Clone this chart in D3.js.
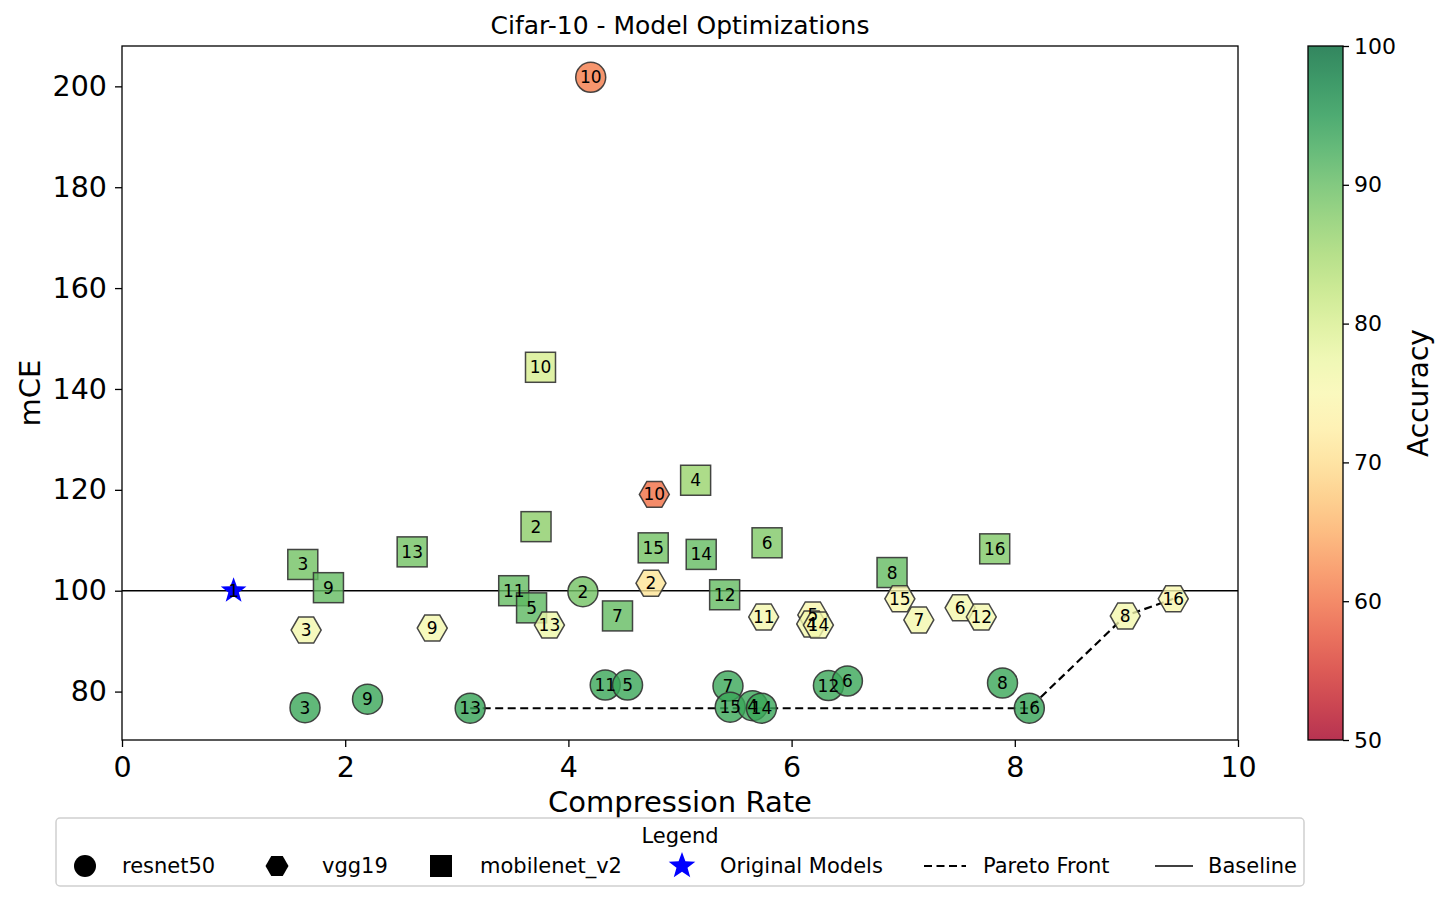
<!DOCTYPE html>
<html lang="en">
<head>
    <meta charset="UTF-8">
    <title>Cifar-10 - Model Optimizations</title>
    <script src="https://d3js.org/d3.v7.min.js"></script>
    <style>
        body { margin: 0; background: white; font-family: "DejaVu Sans", sans-serif; }
        .tick text { font-family: "DejaVu Sans", sans-serif; }
        .lbl { font-size: 17px; text-anchor: middle; dominant-baseline: central; }
    </style>
</head>
<body>
<svg id="chart" width="1448" height="902"></svg>
<script>
    // resnet50 (circles)
    let resnetIds  = [3, 9, 13, 2, 11, 5, 10, 7, 15, 4, 14, 12, 6, 8, 16]
    let resnetRate = [1.64, 2.20, 3.12, 4.13, 4.33, 4.53, 4.20, 5.43, 5.45, 5.65, 5.73, 6.33, 6.50, 7.89, 8.13]
    let resnetMce  = [76.8, 78.5, 76.7, 99.8, 81.3, 81.3, 201.8, 81.1, 76.9, 77.2, 76.7, 81.2, 82.1, 81.7, 76.7]
    let resnetAcc  = [93, 93, 93.5, 89, 93, 93, 61, 93, 93, 93, 93, 93, 93, 93, 93.5]

    // vgg19 (hexagons)
    let vggIds  = [3, 9, 13, 2, 10, 11, 5, 4, 14, 15, 7, 6, 12, 8, 16]
    let vggRate = [1.65, 2.78, 3.83, 4.74, 4.77, 5.75, 6.19, 6.18, 6.24, 6.97, 7.14, 7.51, 7.70, 8.99, 9.42]
    let vggMce  = [92.2, 92.6, 93.2, 101.5, 119.1, 94.8, 95.2, 93.4, 93.2, 98.4, 94.2, 96.6, 94.8, 95.0, 98.4]
    let vggAcc  = [76, 76, 77, 71, 60, 76, 75, 76, 76, 75, 76, 76, 76, 76, 75]

    // mobilenet_v2 (squares)
    let mobileIds  = [3, 9, 13, 2, 10, 11, 5, 7, 15, 4, 14, 12, 6, 8, 16]
    let mobileRate = [1.62, 1.85, 2.60, 3.71, 3.75, 3.51, 3.67, 4.44, 4.76, 5.14, 5.19, 5.40, 5.78, 6.90, 7.82]
    let mobileMce  = [105.2, 100.6, 107.7, 112.7, 144.3, 100.0, 96.6, 95.0, 108.5, 121.9, 107.2, 99.2, 109.5, 103.6, 108.3]
    let mobileAcc  = [89, 90, 89, 87, 80, 90, 90.5, 90, 89, 86, 90, 90, 88, 90, 88]

    // original model
    let origRate = [1.0]
    let origMce = [100]
    let origIds = [1]

    // pareto front members
    let paretoPoints = [["resnet50", 13], ["resnet50", 14], ["resnet50", 16], ["vgg19", 8], ["vgg19", 16]]
    let baseline = 100

    let xTicks = [0, 2, 4, 6, 8, 10]
    let yTicks = [80, 100, 120, 140, 160, 180, 200]
    let colorTicks = [50, 60, 70, 80, 90, 100]

    let svg = d3.select("#chart")
    let mLeft = 122, mRight = 1238, mTop = 46, mBottom = 740

    let x = d3.scaleLinear().domain([0, 10]).range([mLeft, mRight])
    let y = d3.scaleLinear().domain([70.4, 208]).range([mBottom, mTop])
    let color = acc => d3.interpolateRdYlGn((acc - 50) / 50)

    function rows(model, ids, rate, mce, acc) {
        return ids.map((id, i) => ({ model: model, id: id, rate: rate[i], mce: mce[i], acc: acc[i] }))
    }
    let resnet = rows("resnet50", resnetIds, resnetRate, resnetMce, resnetAcc)
    let vgg = rows("vgg19", vggIds, vggRate, vggMce, vggAcc)
    let mobile = rows("mobilenet_v2", mobileIds, mobileRate, mobileMce, mobileAcc)
    let all = mobile.concat(vgg, resnet)

    let defs = svg.append("defs")
    defs.append("clipPath").attr("id", "plotclip")
        .append("rect").attr("x", mLeft).attr("y", mTop).attr("width", mRight - mLeft).attr("height", mBottom - mTop)

    let plot = svg.append("g").attr("clip-path", "url(#plotclip)")

    // baseline
    plot.append("line")
        .attr("x1", mLeft).attr("x2", mRight)
        .attr("y1", y(baseline)).attr("y2", y(baseline))
        .attr("stroke", "black").attr("stroke-width", 1.6)

    // pareto front
    let paretoRows = paretoPoints.map(p => all.find(d => d.model === p[0] && d.id === p[1]))
    plot.append("path")
        .datum(paretoRows)
        .attr("d", d3.line().x(d => x(d.rate)).y(d => y(d.mce)))
        .attr("fill", "none").attr("stroke", "black")
        .attr("stroke-width", 2.2).attr("stroke-dasharray", "8,4.5")

    // shapes
    let hexPath = r => {
        let pts = d3.range(6).map(k => [r * Math.cos(k * Math.PI / 3), r * Math.sin(k * Math.PI / 3)])
        return "M" + pts.map(p => p.join(",")).join("L") + "Z"
    }
    let starPath = (ro, ri) => {
        let pts = d3.range(10).map(k => {
            let a = -Math.PI / 2 + k * Math.PI / 5
            let r = k % 2 === 0 ? ro : ri
            return [r * Math.cos(a), r * Math.sin(a)]
        })
        return "M" + pts.map(p => p.join(",")).join("L") + "Z"
    }
    let shapeFor = {
        "resnet50": g => g.append("circle").attr("r", 15),
        "vgg19": g => g.append("path").attr("d", hexPath(15)),
        "mobilenet_v2": g => g.append("rect").attr("x", -15).attr("y", -15).attr("width", 30).attr("height", 30)
    }

    let marks = plot.append("g")
    all.forEach(d => {
        let g = marks.append("g").attr("transform", `translate(${x(d.rate)},${y(d.mce)})`)
        shapeFor[d.model](g)
            .attr("fill", color(d.acc))
            .attr("fill-opacity", 0.8)
            .attr("stroke", "#333")
            .attr("stroke-opacity", 0.9)
            .attr("stroke-width", 1.5)
    })

    // original model star
    origRate.forEach((r, i) => {
        plot.append("path")
            .attr("transform", `translate(${x(r)},${y(origMce[i])})`)
            .attr("d", starPath(13.5, 5.5))
            .attr("fill", "blue")
    })

    // labels
    all.forEach(d => {
        plot.append("text").attr("class", "lbl")
            .attr("x", x(d.rate)).attr("y", y(d.mce))
            .text(d.id)
    })
    origRate.forEach((r, i) => {
        plot.append("text").attr("class", "lbl")
            .attr("x", x(r)).attr("y", y(origMce[i]))
            .text(origIds[i])
    })

    // frame
    svg.append("rect").attr("x", mLeft).attr("y", mTop)
        .attr("width", mRight - mLeft).attr("height", mBottom - mTop)
        .attr("fill", "none").attr("stroke", "black").attr("stroke-width", 1.3)

    // axes
    let xAxis = svg.append("g").attr("transform", `translate(0,${mBottom})`)
        .call(d3.axisBottom(x).tickValues(xTicks).tickSize(7).tickPadding(10))
    let yAxis = svg.append("g").attr("transform", `translate(${mLeft},0)`)
        .call(d3.axisLeft(y).tickValues(yTicks).tickSize(7).tickPadding(8))
    ;[xAxis, yAxis].forEach(a => {
        a.select(".domain").remove()
        a.selectAll(".tick line").attr("stroke", "black").attr("stroke-width", 1.3)
        a.selectAll(".tick text").attr("font-size", 28.5).attr("fill", "black")
    })

    svg.append("text").attr("x", (mLeft + mRight) / 2).attr("y", 34)
        .attr("text-anchor", "middle").attr("font-size", 25).text("Cifar-10 - Model Optimizations")
    svg.append("text").attr("x", (mLeft + mRight) / 2).attr("y", 812)
        .attr("text-anchor", "middle").attr("font-size", 29).text("Compression Rate")
    svg.append("text").attr("transform", `translate(40,${(mTop + mBottom) / 2}) rotate(-90)`)
        .attr("text-anchor", "middle").attr("font-size", 29).text("mCE")

    // colorbar
    let cbX = 1308, cbW = 35
    let cy = d3.scaleLinear().domain([50, 100]).range([mBottom, mTop])
    let grad = defs.append("linearGradient").attr("id", "cbgrad")
        .attr("x1", 0).attr("x2", 0).attr("y1", 1).attr("y2", 0)
    d3.range(0, 1.0001, 0.05).forEach(t => {
        grad.append("stop").attr("offset", t).attr("stop-color", d3.interpolateRdYlGn(t)).attr("stop-opacity", 0.8)
    })
    svg.append("rect").attr("x", cbX).attr("y", mTop).attr("width", cbW).attr("height", mBottom - mTop)
        .attr("fill", "url(#cbgrad)").attr("stroke", "black").attr("stroke-width", 1.3)
    let cAxis = svg.append("g").attr("transform", `translate(${cbX + cbW},0)`)
        .call(d3.axisRight(cy).tickValues(colorTicks).tickSize(6).tickPadding(5))
    cAxis.select(".domain").remove()
    cAxis.selectAll(".tick line").attr("stroke", "black").attr("stroke-width", 1.3)
    cAxis.selectAll(".tick text").attr("font-size", 22).attr("fill", "black")
    svg.append("text").attr("transform", `translate(1428,${(mTop + mBottom) / 2}) rotate(-90)`)
        .attr("text-anchor", "middle").attr("font-size", 28).text("Accuracy")

    // legend
    let lg = svg.append("g")
    lg.append("rect").attr("x", 56).attr("y", 818).attr("width", 1248).attr("height", 68)
        .attr("rx", 4).attr("fill", "white").attr("stroke", "#d0d0d0").attr("stroke-width", 1.5)
    lg.append("text").attr("x", 680).attr("y", 843).attr("text-anchor", "middle")
        .attr("font-size", 21).text("Legend")
    let ly = 866
    lg.append("circle").attr("cx", 85).attr("cy", ly).attr("r", 11)
    lg.append("path").attr("transform", `translate(277,${ly})`).attr("d", hexPath(11.5))
    lg.append("rect").attr("x", 430).attr("y", ly - 11).attr("width", 22).attr("height", 22)
    lg.append("path").attr("transform", `translate(682,${ly})`).attr("d", starPath(14, 5.8)).attr("fill", "blue")
    lg.append("line").attr("x1", 924).attr("x2", 966).attr("y1", ly).attr("y2", ly)
        .attr("stroke", "black").attr("stroke-width", 2.2).attr("stroke-dasharray", "8,4.5")
    lg.append("line").attr("x1", 1155).attr("x2", 1193).attr("y1", ly).attr("y2", ly)
        .attr("stroke", "black").attr("stroke-width", 1.6)
    let legendTexts = [[122, "resnet50"], [322, "vgg19"], [480, "mobilenet_v2"], [720, "Original Models"], [983, "Pareto Front"], [1208, "Baseline"]]
    legendTexts.forEach(t => {
        lg.append("text").attr("x", t[0]).attr("y", ly).attr("dominant-baseline", "central")
            .attr("font-size", 21).text(t[1])
    })
</script>
</body>
</html>
